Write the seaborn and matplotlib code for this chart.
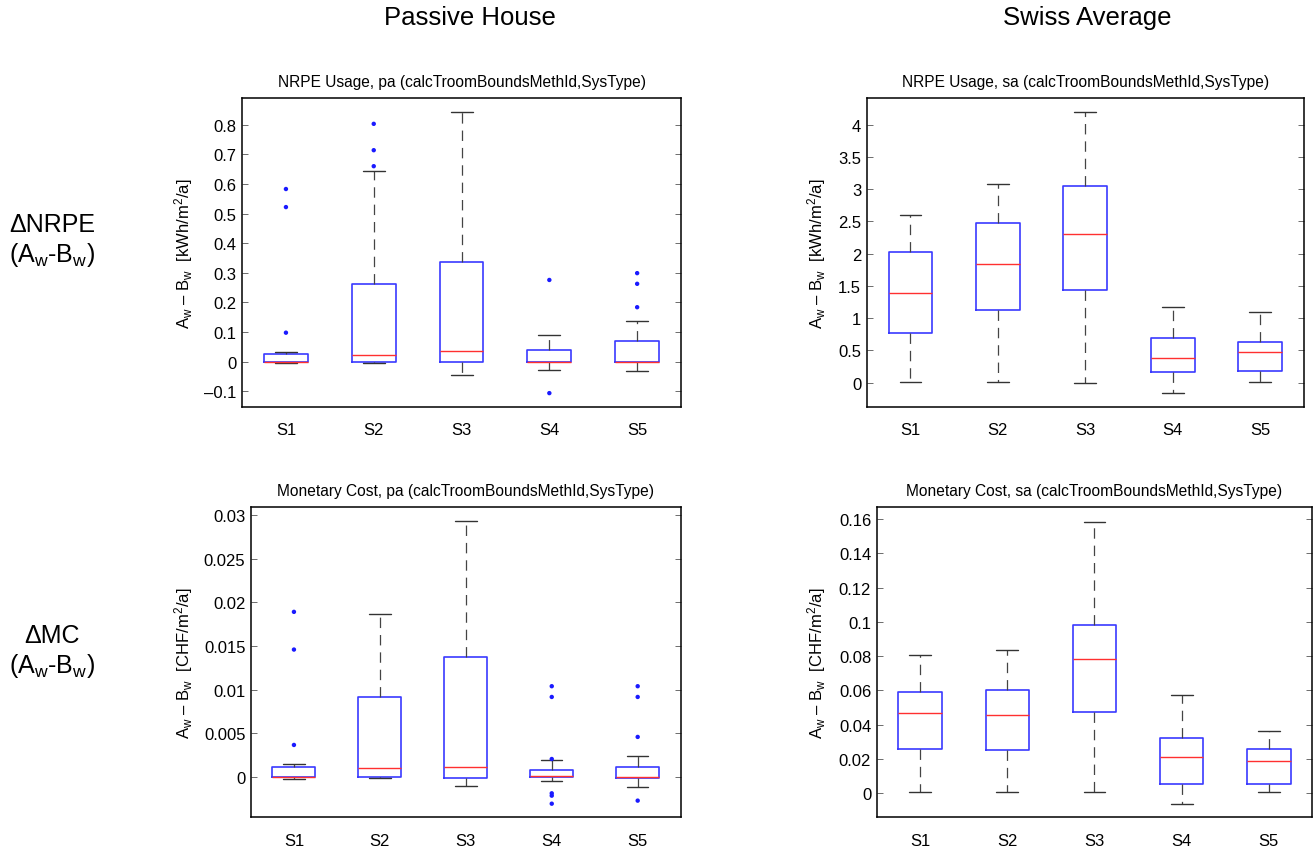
import numpy as np
import pandas as pd
import matplotlib
matplotlib.use("Agg")
import matplotlib.pyplot as plt
from matplotlib.ticker import FuncFormatter
import seaborn as sns

# ---------------------------------------------------------------- data
systems = ["S1", "S2", "S3", "S4", "S5"]

# NRPE usage, passive house  [kWh/m2/a]
nrpe_pa_whislo = [-0.003, -0.003, -0.045, -0.029, -0.033]
nrpe_pa_q1 = [0.0, 0.0, 0.0, 0.0, 0.0]
nrpe_pa_med = [0.0, 0.024, 0.037, 0.0, 0.0]
nrpe_pa_q3 = [0.025, 0.261, 0.336, 0.039, 0.070]
nrpe_pa_whishi = [0.033, 0.643, 0.842, 0.091, 0.136]
nrpe_pa_fliers = [[0.583, 0.522, 0.098], [0.803, 0.714, 0.660], [],
                  [0.276, -0.106], [0.299, 0.263, 0.184]]

# NRPE usage, Swiss average  [kWh/m2/a]
nrpe_sa_whislo = [0.010, 0.010, 0.0, -0.160, 0.010]
nrpe_sa_q1 = [0.766, 1.123, 1.439, 0.166, 0.176]
nrpe_sa_med = [1.397, 1.837, 2.313, 0.378, 0.476]
nrpe_sa_q3 = [2.034, 2.473, 3.043, 0.693, 0.636]
nrpe_sa_whishi = [2.598, 3.074, 4.191, 1.180, 1.097]
nrpe_sa_fliers = [[], [], [], [], []]

# Monetary cost, passive house  [CHF/m2/a]
mc_pa_whislo = [-0.00023, -0.0001, -0.00107, -0.00042, -0.0011]
mc_pa_q1 = [0.0, 0.0, -0.0001, 0.0, -0.0001]
mc_pa_med = [0.0, 0.00099, 0.00115, 0.0001, 0.0]
mc_pa_q3 = [0.00115, 0.00913, 0.01376, 0.0008, 0.00115]
mc_pa_whishi = [0.00153, 0.01869, 0.02931, 0.00191, 0.00237]
mc_pa_fliers = [[0.01892, 0.0146, 0.00367], [], [],
                [0.0104, 0.00917, 0.00206, -0.00187, -0.00214, -0.00306],
                [0.0104, 0.00917, 0.00459, -0.00271]]

# Monetary cost, Swiss average  [CHF/m2/a]
mc_sa_whislo = [0.0006, 0.0006, 0.0006, -0.0060, 0.0006]
mc_sa_q1 = [0.0259, 0.0251, 0.0472, 0.0054, 0.0056]
mc_sa_med = [0.0467, 0.0455, 0.0785, 0.0214, 0.0189]
mc_sa_q3 = [0.0593, 0.0605, 0.0980, 0.0325, 0.0257]
mc_sa_whishi = [0.0805, 0.0834, 0.1584, 0.0574, 0.0362]
mc_sa_fliers = [[], [], [], [], []]

col_titles = ["Passive House", "Swiss Average"]
row_titles = ["\u0394NRPE\n(A$_\\mathrm{w}$-B$_\\mathrm{w}$)",
              "\u0394MC\n(A$_\\mathrm{w}$-B$_\\mathrm{w}$)"]

# ---------------------------------------------------------------- style
sns.set_style("white")
plt.rcParams["font.family"] = ["Liberation Sans", "DejaVu Sans"]
plt.rcParams["mathtext.fontset"] = "custom"
plt.rcParams["mathtext.rm"] = "Liberation Sans"
plt.rcParams["mathtext.it"] = "Liberation Sans:italic"
plt.rcParams["lines.scale_dashes"] = False
for key in ("text.color", "axes.labelcolor", "xtick.labelcolor", "ytick.labelcolor"):
    plt.rcParams[key] = "black"

fig = plt.figure(figsize=(13.14, 8.54), dpi=100)

panels = [
    dict(rect=[0.1842, 0.5222, 0.3341, 0.3618],
         title="NRPE Usage, pa (calcTroomBoundsMethId,SysType)",
         unit="kWh/m$^2$/a", ylim=(-0.153, 0.89), ticks=np.arange(-0.1, 0.81, 0.1),
         stats=(nrpe_pa_whislo, nrpe_pa_q1, nrpe_pa_med, nrpe_pa_q3, nrpe_pa_whishi, nrpe_pa_fliers),
         lab_x=-0.133),
    dict(rect=[0.6596, 0.5222, 0.3328, 0.3618],
         title="NRPE Usage, sa (calcTroomBoundsMethId,SysType)",
         unit="kWh/m$^2$/a", ylim=(-0.378, 4.414), ticks=np.arange(0, 4.01, 0.5),
         stats=(nrpe_sa_whislo, nrpe_sa_q1, nrpe_sa_med, nrpe_sa_q3, nrpe_sa_whishi, nrpe_sa_fliers),
         lab_x=-0.115),
    dict(rect=[0.1910, 0.0418, 0.3270, 0.3630],
         title="Monetary Cost, pa (calcTroomBoundsMethId,SysType)",
         unit="CHF/m$^2$/a", ylim=(-0.00462, 0.0309), ticks=np.arange(0, 0.0301, 0.005),
         stats=(mc_pa_whislo, mc_pa_q1, mc_pa_med, mc_pa_q3, mc_pa_whishi, mc_pa_fliers),
         lab_x=-0.156),
    dict(rect=[0.6672, 0.0418, 0.3315, 0.3630],
         title="Monetary Cost, sa (calcTroomBoundsMethId,SysType)",
         unit="CHF/m$^2$/a", ylim=(-0.014, 0.1668), ticks=np.arange(0, 0.161, 0.02),
         stats=(mc_sa_whislo, mc_sa_q1, mc_sa_med, mc_sa_q3, mc_sa_whishi, mc_sa_fliers),
         lab_x=-0.138),
]


def fmt(v, _pos):
    s = "%g" % round(v, 6)
    return "0" if s in ("0", "-0") else s.replace("-", "\u2013")


for p in panels:
    ax = fig.add_axes(p["rect"])
    whislo, q1, med, q3, whishi, fliers = p["stats"]
    positions = np.arange(1, len(systems) + 1)
    bstats = [dict(whislo=a, q1=b, med=c, q3=d, whishi=e, fliers=[], label=s)
              for a, b, c, d, e, s in zip(whislo, q1, med, q3, whishi, systems)]
    ax.bxp(bstats, positions=positions, widths=0.5, capwidths=0.25,
           showfliers=False, manage_ticks=False,
           boxprops=dict(color="#3a3aff", linewidth=1.2),
           medianprops=dict(color="#ff3030", linewidth=1.0),
           whiskerprops=dict(color="#444444", linewidth=0.9, linestyle=(0, (7.5, 5))),
           capprops=dict(color="#333333", linewidth=1.0))

    # outlier points
    fx = [pos for pos, fl in zip(positions, fliers) for _ in fl]
    fy = [v for fl in fliers for v in fl]
    if fy:
        sns.scatterplot(x=fx, y=fy, ax=ax, color="#1a1aff", s=10,
                        edgecolor="none", legend=False, zorder=3)

    ax.set_xlim(0.5, 5.5)
    ax.set_ylim(*p["ylim"])
    ax.set_xticks(positions)
    ax.set_xticklabels(systems)
    ax.set_yticks(p["ticks"])
    ax.yaxis.set_major_formatter(FuncFormatter(fmt))
    ax.tick_params(axis="y", direction="in", length=4, width=0.6, color="#555555",
                   left=True, right=True, labelsize=12, pad=4, labelcolor="black")
    ax.tick_params(axis="x", length=0, labelsize=12, pad=11, labelcolor="black")
    for sp in ax.spines.values():
        sp.set_visible(True)
        sp.set_color("black")
        sp.set_linewidth(1.1)

    ax.set_title(p["title"], fontsize=11.2, pad=9, color="black")
    ax.set_ylabel("A$_\\mathrm{w}$ \u2013 B$_\\mathrm{w}$  [" + p["unit"] + "]",
                  fontsize=12, color="black")
    ax.yaxis.label.set_va("center")
    ax.yaxis.set_label_coords(p["lab_x"], 0.5)

# column headers
fig.text(470 / 1314, 1 - 18 / 854, col_titles[0], ha="center", va="center",
         fontsize=18.5, color="black")
fig.text(1087 / 1314, 1 - 18 / 854, col_titles[1], ha="center", va="center",
         fontsize=18.5, color="black")

# row headers
fig.text(52 / 1314, 1 - 241 / 854, row_titles[0], ha="center", va="center",
         multialignment="center", fontsize=18, linespacing=1.2, color="black")
fig.text(52 / 1314, 1 - 652 / 854, row_titles[1], ha="center", va="center",
         multialignment="center", fontsize=18, linespacing=1.2, color="black")

fig.savefig("out.png", dpi=100)
